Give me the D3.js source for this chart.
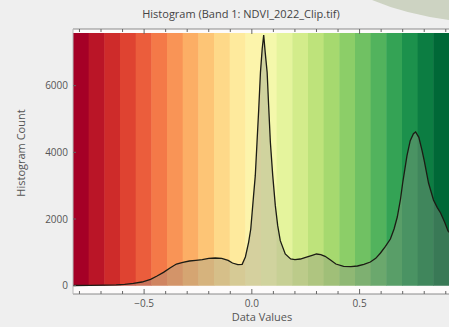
<!DOCTYPE html>
<html>
<head>
<meta charset="utf-8">
<script src="https://cdn.jsdelivr.net/npm/d3@7"></script>
<style>
  html, body { margin: 0; padding: 0; background: #efefef; }
  svg { display: block; font-family: "Open Sans", "DejaVu Sans", sans-serif; }
</style>
</head>
<body>
<div id="chart"></div>
<script>
// NDVI values (bin centres) and histogram counts
const dataValues = [
  -0.83, -0.75, -0.68, -0.63, -0.59, -0.55, -0.51, -0.47, -0.44, -0.41, -0.38, -0.35,
  -0.32, -0.29, -0.26, -0.23, -0.20, -0.17, -0.14, -0.11, -0.09, -0.065, -0.045, -0.03,
  -0.015, -0.005, 0.008, 0.016, 0.024, 0.032, 0.040, 0.048, 0.055, 0.062, 0.071, 0.078,
  0.086, 0.097, 0.109, 0.12, 0.132, 0.155, 0.18, 0.20, 0.225, 0.25, 0.28, 0.30, 0.32,
  0.34, 0.365, 0.39, 0.426, 0.46, 0.49, 0.52, 0.55, 0.575, 0.597, 0.62, 0.643, 0.66,
  0.675, 0.69, 0.70, 0.72, 0.735, 0.75, 0.76, 0.775, 0.79, 0.80, 0.82, 0.843, 0.86,
  0.876, 0.895, 0.91, 0.915
];
const counts = [
  5, 8, 15, 25, 40, 70, 110, 190, 290, 400, 530, 650,
  700, 740, 760, 780, 820, 830, 820, 760, 680, 630, 640, 860,
  1300, 1700, 2700, 3300, 4300, 5300, 6400, 7100, 7520, 7000, 6400, 5400,
  4300, 3300, 2400, 1800, 1350, 950, 800, 780, 800, 850, 910, 950, 930,
  880, 770, 650, 580, 570, 590, 640, 710, 820, 980, 1180, 1400, 1700,
  2060, 2600, 3080, 3900, 4350, 4560, 4610, 4450, 4050, 3750, 3080, 2570, 2350,
  2180, 1900, 1650, 1600
];
const xMajorTicks = [-0.5, 0.0, 0.5];
const xMinorTicks = [-0.8, -0.7, -0.6, -0.4, -0.3, -0.2, -0.1, 0.1, 0.2, 0.3, 0.4, 0.6, 0.7, 0.8, 0.9];
const yTicks = [0, 2000, 4000, 6000];
const titleText = 'Histogram (Band 1: NDVI_2022_Clip.tif)';
const xTitle = 'Data Values';
const yTitle = 'Histogram Count';
const bandCount = 24;

const W = 449, H = 327;
const plot = {left: 73, right: 449, top: 29, bottom: 294};

const svg = d3.select('#chart').append('svg').attr('width', W).attr('height', H);

// faint window artefact in the top-right corner
svg.append('path')
  .attr('d', 'M372,0 Q405,14 449,20 L449,0 Z')
  .attr('fill', '#cdd3c2');

const x = d3.scaleLinear().domain([-0.83, 0.915]).range([plot.left, plot.right]);
const y = d3.scaleLinear().domain([-250, 7700]).range([plot.bottom, plot.top]);

svg.append('rect')
  .attr('x', plot.left).attr('y', plot.top)
  .attr('width', plot.right - plot.left).attr('height', plot.bottom - plot.top)
  .attr('fill', '#fdfbfb');

// banded RdYlGn background
const [d0, d1] = x.domain();
const bands = d3.range(bandCount).map(i => ({
  x0: d0 + (d1 - d0) * i / bandCount,
  x1: d0 + (d1 - d0) * (i + 1) / bandCount,
  t: i / (bandCount - 1)
}));
svg.append('g').selectAll('rect')
  .data(bands)
  .enter()
  .append('rect')
  .attr('x', d => x(d.x0))
  .attr('width', d => x(d.x1) - x(d.x0) + 0.5)
  .attr('y', y(7580))
  .attr('height', y(0) - y(7580))
  .attr('fill', d => d3.interpolateRdYlGn(d.t));

const pts = dataValues.map((v, i) => ({v, c: counts[i]}));

const area = d3.area()
  .x(d => x(d.v))
  .y0(y(0))
  .y1(d => y(d.c));

svg.append('path')
  .datum(pts)
  .attr('fill', 'rgba(150,150,138,0.38)')
  .attr('d', area);

const line = d3.line()
  .x(d => x(d.v))
  .y(d => y(d.c));

svg.append('path')
  .datum(pts)
  .attr('fill', 'none')
  .attr('stroke', '#1c1c14')
  .attr('stroke-width', 1.3)
  .attr('d', line);

// axes frame lines
const axisColor = '#8a8a8a';
svg.append('line').attr('x1', plot.left).attr('x2', plot.right)
  .attr('y1', plot.bottom).attr('y2', plot.bottom).attr('stroke', axisColor);
svg.append('line').attr('x1', plot.left).attr('x2', plot.right)
  .attr('y1', plot.top).attr('y2', plot.top).attr('stroke', axisColor);
svg.append('line').attr('x1', plot.left).attr('x2', plot.left)
  .attr('y1', plot.top).attr('y2', plot.bottom).attr('stroke', '#b8b8b8');

// inward ticks, top and bottom
const tickData = xMajorTicks.map(v => ({v, len: 5}))
  .concat(xMinorTicks.map(v => ({v, len: 3})));
svg.append('g').selectAll('line')
  .data(tickData)
  .enter()
  .append('line')
  .attr('x1', d => x(d.v)).attr('x2', d => x(d.v))
  .attr('y1', plot.bottom).attr('y2', d => plot.bottom - d.len)
  .attr('stroke', '#666');
svg.append('g').selectAll('line')
  .data(tickData)
  .enter()
  .append('line')
  .attr('x1', d => x(d.v)).attr('x2', d => x(d.v))
  .attr('y1', plot.top).attr('y2', d => plot.top + d.len)
  .attr('stroke', '#666');

svg.append('g').selectAll('line')
  .data(yTicks)
  .enter()
  .append('line')
  .attr('x1', plot.left).attr('x2', plot.left + 3)
  .attr('y1', d => y(d)).attr('y2', d => y(d))
  .attr('stroke', '#666');

// tick labels
svg.append('g').selectAll('text')
  .data(xMajorTicks)
  .enter()
  .append('text')
  .attr('x', d => x(d))
  .attr('y', 307)
  .attr('text-anchor', 'middle')
  .attr('font-size', 10)
  .attr('fill', '#555')
  .text(d => d3.format('.1f')(d).replace('-', '-'));

svg.append('g').selectAll('text')
  .data(yTicks)
  .enter()
  .append('text')
  .attr('x', 68)
  .attr('y', d => y(d) + 3.5)
  .attr('text-anchor', 'end')
  .attr('font-size', 10)
  .attr('fill', '#555')
  .text(d => d);

// titles
svg.append('text')
  .attr('x', 241).attr('y', 18)
  .attr('text-anchor', 'middle')
  .attr('font-size', 11)
  .attr('fill', '#444')
  .text(titleText);

svg.append('text')
  .attr('x', 262).attr('y', 321)
  .attr('text-anchor', 'middle')
  .attr('font-size', 11)
  .attr('fill', '#555')
  .text(xTitle);

svg.append('text')
  .attr('transform', 'translate(25,153) rotate(-90)')
  .attr('text-anchor', 'middle')
  .attr('font-size', 11)
  .attr('fill', '#555')
  .text(yTitle);
</script>
</body>
</html>
